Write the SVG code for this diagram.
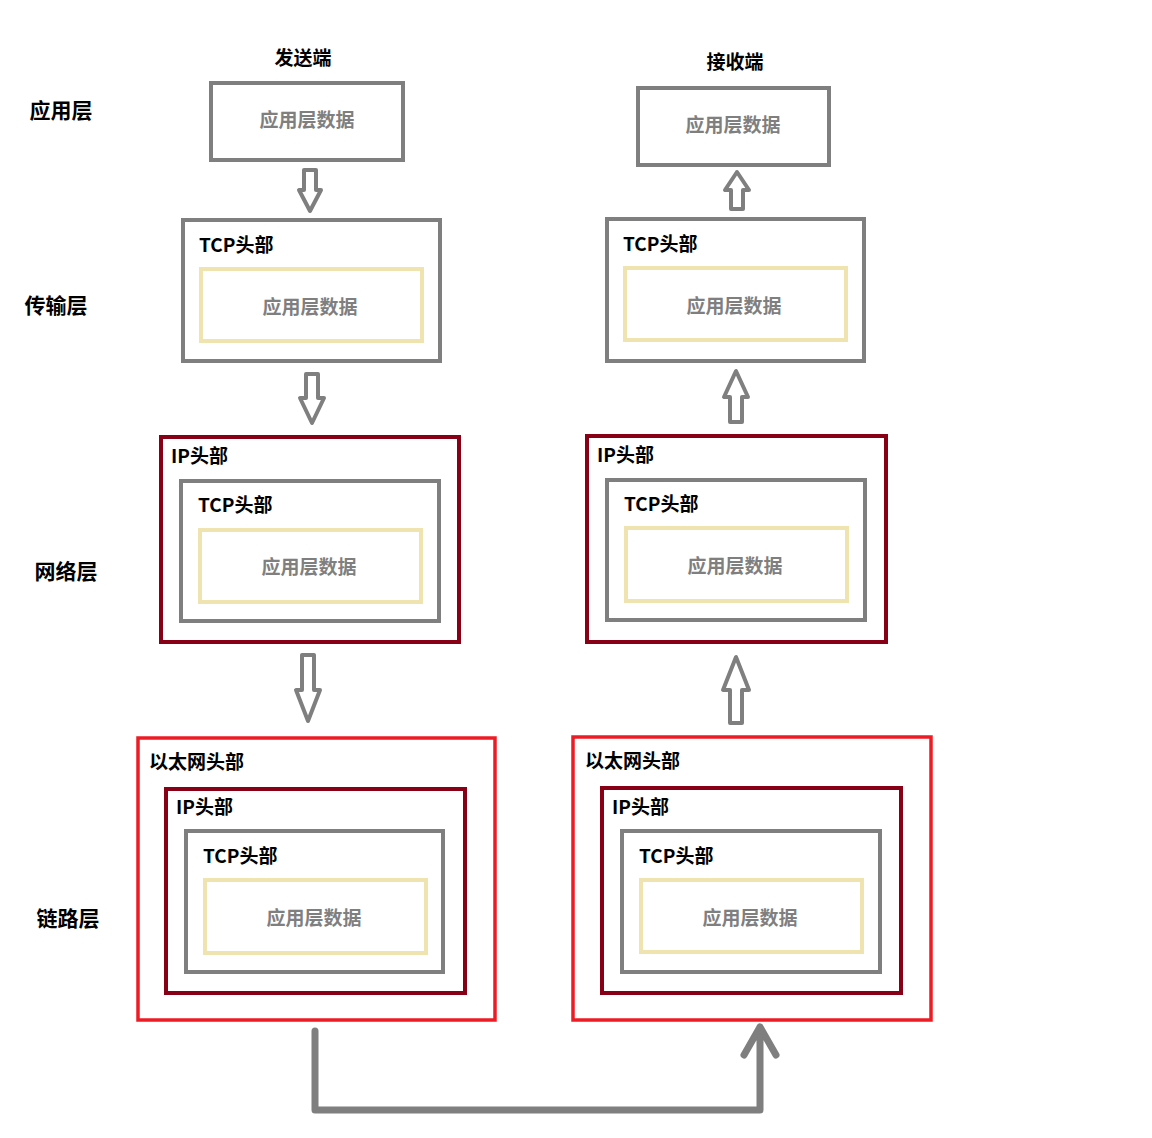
<svg xmlns="http://www.w3.org/2000/svg" width="1152" height="1138" viewBox="0 0 1152 1138">
<style>
text{font-family:"Microsoft YaHei","Noto Sans CJK SC","Noto Sans",sans-serif;font-weight:bold;font-size:19px}
.lbl{fill:#000}
.dat{fill:#7f7f7f;text-anchor:middle}
.side{font-size:21px;text-anchor:middle;fill:#000}
.g{fill:#fff;stroke:#7f7f7f;stroke-width:4}
.y{fill:none;stroke:#efe4b0;stroke-width:4}
.dr{fill:#fff;stroke:#880015;stroke-width:4}
.r{fill:#fff;stroke:#ed1c24;stroke-width:3.5}
.ba{fill:#fff;stroke:#7f7f7f;stroke-width:4;stroke-linejoin:round}
</style>
<rect width="1152" height="1138" fill="#fff"/>
<g id="side-labels">
<text class="side" x="61" y="118">应用层</text>
<text class="side" x="56" y="313">传输层</text>
<text class="side" x="66" y="579">网络层</text>
<text class="side" x="68" y="926">链路层</text>
</g>
<g id="sender-title"><text class="lbl" x="303" y="65" text-anchor="middle">发送端</text></g>
<g id="receiver-title"><text class="lbl" x="735" y="69" text-anchor="middle">接收端</text></g>
<g id="s-app">
<rect class="g" x="211" y="83" width="192" height="77"/>
<text class="dat" x="307" y="127">应用层数据</text>
</g>
<g id="s-tcp">
<rect class="g" x="183" y="220" width="257" height="141"/>
<text class="lbl" x="199" y="252">TCP头部</text>
<rect class="y" x="201" y="269" width="221" height="72"/>
<text class="dat" x="310" y="314">应用层数据</text>
</g>
<g id="s-ip">
<rect class="dr" x="161" y="437" width="298" height="205"/>
<text class="lbl" x="171" y="463">IP头部</text>
<rect class="g" x="181" y="481" width="258" height="140"/>
<text class="lbl" x="198" y="512">TCP头部</text>
<rect class="y" x="200" y="530" width="221" height="72"/>
<text class="dat" x="309" y="574">应用层数据</text>
</g>
<g id="s-eth">
<rect class="r" x="138" y="738" width="357" height="282"/>
<text class="lbl" x="149" y="769">以太网头部</text>
<rect class="dr" x="166" y="789" width="299" height="204"/>
<text class="lbl" x="176" y="814">IP头部</text>
<rect class="g" x="186" y="831" width="257" height="141"/>
<text class="lbl" x="203" y="863">TCP头部</text>
<rect class="y" x="205" y="880" width="221" height="73"/>
<text class="dat" x="314" y="925">应用层数据</text>
</g>
<g id="r-app">
<rect class="g" x="638" y="88" width="191" height="77"/>
<text class="dat" x="733" y="132">应用层数据</text>
</g>
<g id="r-tcp">
<rect class="g" x="607" y="219" width="257" height="142"/>
<text class="lbl" x="623" y="251">TCP头部</text>
<rect class="y" x="625" y="268" width="221" height="72"/>
<text class="dat" x="734" y="313">应用层数据</text>
</g>
<g id="r-ip">
<rect class="dr" x="587" y="436" width="299" height="206"/>
<text class="lbl" x="597" y="462">IP头部</text>
<rect class="g" x="607" y="480" width="258" height="140"/>
<text class="lbl" x="624" y="511">TCP头部</text>
<rect class="y" x="626" y="528" width="221" height="73"/>
<text class="dat" x="735" y="573">应用层数据</text>
</g>
<g id="r-eth">
<rect class="r" x="573" y="737" width="358" height="283"/>
<text class="lbl" x="585" y="768">以太网头部</text>
<rect class="dr" x="602" y="788" width="299" height="205"/>
<text class="lbl" x="612" y="814">IP头部</text>
<rect class="g" x="622" y="831" width="258" height="141"/>
<text class="lbl" x="639" y="863">TCP头部</text>
<rect class="y" x="641" y="880" width="221" height="72"/>
<text class="dat" x="750" y="925">应用层数据</text>
</g>
<g id="connectors">
<path class="ba" d="M304 170 H316 V190 H321 L310 211 L299 190 H304 Z"/>
<path class="ba" d="M306 374 H318 V398 H324 L312 423 L300 398 H306 Z"/>
<path class="ba" d="M302 655 H314 V690 H320 L308 721 L296 690 H302 Z"/>
<path class="ba" d="M731 209 H743 V190 H749 L737 172 L725 190 H731 Z"/>
<path class="ba" d="M730 422 H742 V397 H748 L736 371 L724 397 H730 Z"/>
<path class="ba" d="M730 723 H742 V690 H749 L736 657 L723 690 H730 Z"/>
<path d="M315 1031 V1110 H760 V1027 M744 1055 L760 1027 L776 1055" fill="none" stroke="#7f7f7f" stroke-width="7" stroke-linecap="round" stroke-linejoin="round"/>
</g>
</svg>
